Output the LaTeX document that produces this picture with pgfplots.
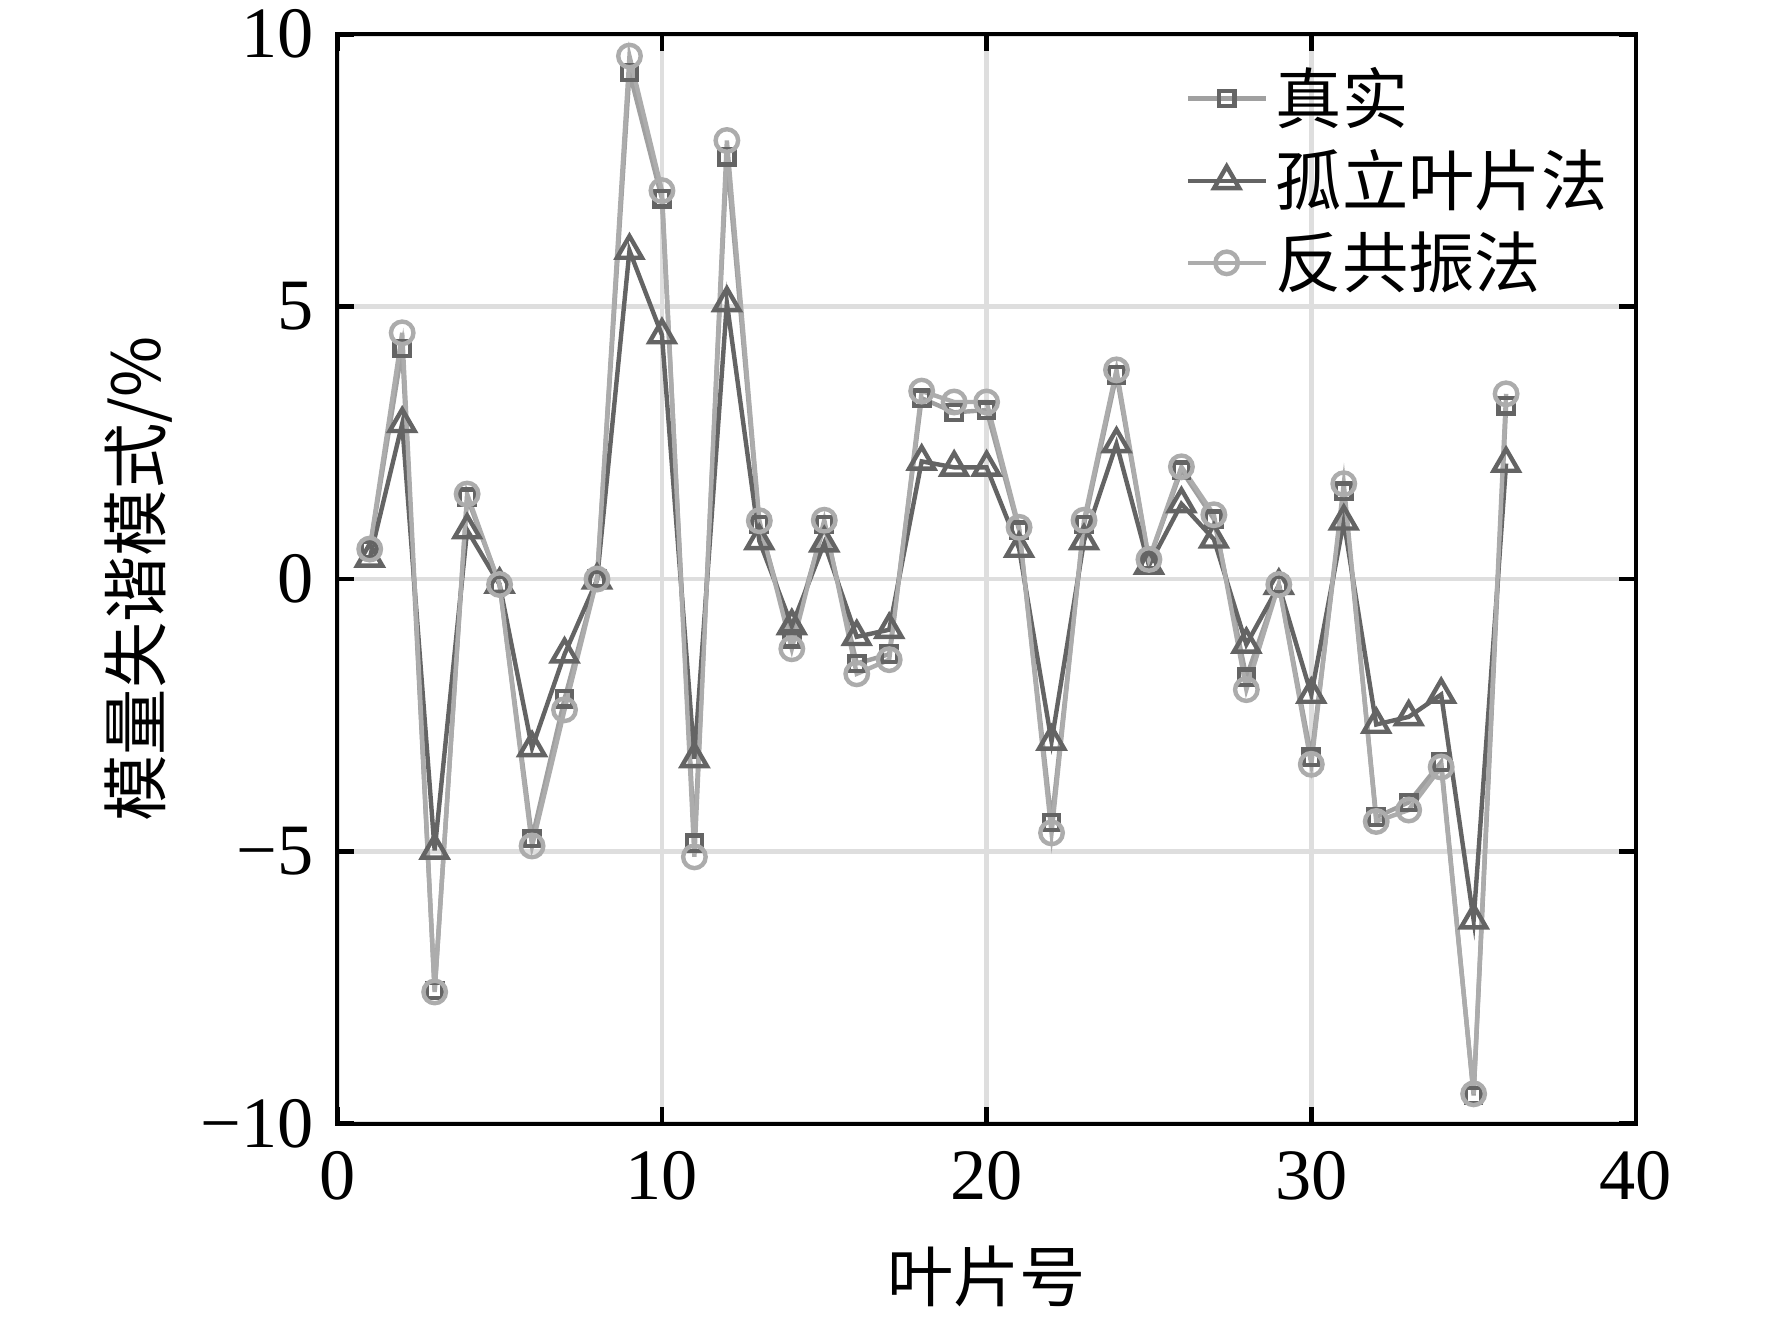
\documentclass[border=0pt]{standalone}
\usepackage{fontspec}
\setmainfont{Liberation Serif}
\newfontfamily\cjk{Noto Sans CJK SC}
\usepackage{pgfplots}
\usepackage{pgfplotstable}
\usetikzlibrary{calc}
\pgfplotsset{compat=1.18}
\definecolor{cAl}{RGB}{160,160,160}
\definecolor{cAm}{RGB}{100,100,100}
\definecolor{cB}{RGB}{100,100,100}
\definecolor{cC}{RGB}{172,172,172}
\definecolor{cGrid}{RGB}{222,222,222}
\pgfplotstableread{
x   a      b      c
1   0.54   0.38   0.55
2   4.23   2.85   4.52
3  -7.55  -4.98  -7.58
4   1.50   0.90   1.56
5  -0.10  -0.10  -0.10
6  -4.76  -3.10  -4.90
7  -2.20  -1.38  -2.40
8   0.00  -0.02   0.00
9   9.30   6.03   9.60
10  6.98   4.48   7.13
11 -4.85  -3.30  -5.10
12  7.75   5.07   8.05
13  1.00   0.70   1.07
14 -1.10  -0.86  -1.28
15  1.00   0.66   1.08
16 -1.55  -1.06  -1.74
17 -1.38  -0.93  -1.48
18  3.32   2.16   3.45
19  3.06   2.05   3.25
20  3.10   2.05   3.25
21  0.90   0.56   0.95
22 -4.47  -2.98  -4.66
23  1.00   0.70   1.08
24  3.75   2.48   3.84
25  0.34   0.25   0.36
26  2.00   1.38   2.06
27  1.10   0.73   1.18
28 -1.80  -1.20  -2.03
29 -0.10  -0.12  -0.10
30 -3.27  -2.12  -3.40
31  1.61   1.06   1.75
32 -4.37  -2.67  -4.45
33 -4.10  -2.53  -4.24
34 -3.36  -2.12  -3.45
35 -9.48  -6.26  -9.45
36  3.18   2.12   3.40
}\data
\begin{document}
\begin{tikzpicture}
\begin{axis}[
  scale only axis,
  width=11.36cm, height=9.53cm,
  xmin=0, xmax=40, ymin=-10, ymax=10,
  xtick={0,10,20,30,40},
  xticklabels={0,10,20,30,40},
  ytick={-10,-5,0,5,10},
  yticklabels={−10,−5,0,5,10},
  tick align=inside,
  major tick length=0.15cm,
  every tick/.style={black, line width=1.2pt},
  axis line style={black, line width=1.1pt},
  grid=major,
  major grid style={cGrid, line width=1.2pt},
  ticklabel style={font=\fontsize{18}{20}\selectfont},
  xticklabel style={yshift=-0.12cm},
  yticklabel style={xshift=-0.08cm},
  xlabel={\cjk 叶片号},
  ylabel={\cjk 模量失谐模式/\%},
  label style={font=\fontsize{16.5}{18}\selectfont},
  xlabel style={at={(axis description cs:0.5,-0.14)}, anchor=center},
  ylabel style={at={(axis description cs:-0.153,0.5)}, anchor=center},
  legend style={draw=none, fill=none, at={(rel axis cs:0.994,0.985)}, anchor=north east,
    font=\fontsize{16.5}{18}\selectfont\cjk, row sep=1pt,
    /tikz/every even column/.append style={column sep=0.12cm}},
  legend cell align=left,
  legend image code/.code={
    \draw[#1, mark repeat=2, mark phase=2] plot coordinates {(0cm,0cm) (0.34cm,0cm) (0.68cm,0cm)};
  },
]
\addplot[cAl, line width=1.1pt, mark=square, mark size=1.9pt,
  mark options={draw=cAm, fill=cAl, line width=1.1pt}] table[x=x,y=a]{\data};
\addlegendentry{真实}
\addplot[cB, line width=1.1pt, mark=triangle, mark size=3.6pt,
  mark options={draw=cB, line width=1.1pt}] table[x=x,y=b]{\data};
\addlegendentry{孤立叶片法}
\addplot[cC, line width=1.1pt, mark=o, mark size=2.8pt,
  mark options={draw=cC, line width=1.1pt}] table[x=x,y=c]{\data};
\addlegendentry{反共振法}
\coordinate (sw) at (rel axis cs:0,0);
\coordinate (ne) at (rel axis cs:1,1);
\end{axis}
\pgfresetboundingbox
\path ($(sw)+(-2.95cm,-1.75cm)$) rectangle ($(ne)+(1.19cm,0.30cm)$);
\end{tikzpicture}
\end{document}
